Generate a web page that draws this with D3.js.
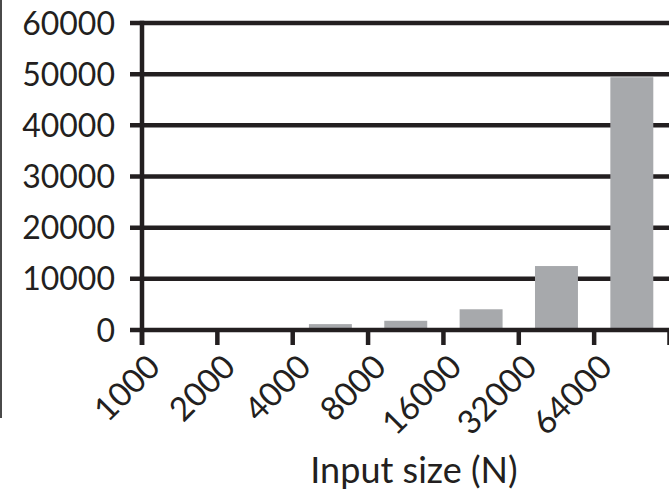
<!DOCTYPE html>
<html>
<head>
<meta charset="utf-8">
<script src="https://cdn.jsdelivr.net/npm/d3@7"></script>
<style>
  html, body { margin: 0; padding: 0; background: #fff; }
  svg { display: block; }
  text { font-family: Lato, "Open Sans", sans-serif; fill: #231f20; }
</style>
</head>
<body>
<svg id="chart" width="669" height="493"></svg>
<script>
const categories = ["1000", "2000", "4000", "8000", "16000", "32000", "64000"];
const values = [100, 300, 1150, 1800, 4050, 12500, 49400];
const yTicks = [0, 10000, 20000, 30000, 40000, 50000, 60000];
const xTitle = "Input size (N)";

(function () {
const svg = d3.select("#chart");
const mLeft = 142, mRight = 669.5, mTop = 23, mBottom = 330;
const ink = "#231f20";

const x = d3.scaleBand().domain(categories).range([mLeft, mRight]).paddingInner(0.43).paddingOuter(0.215);
const step = (mRight - mLeft) / categories.length;
const tickPos = d => mLeft + categories.indexOf(d) * step;
const y = d3.scaleLinear().domain([0, 60000]).range([mBottom, mTop]);

// thin frame line at far left
svg.append("line").attr("x1", 1).attr("x2", 1).attr("y1", 0).attr("y2", 418)
  .attr("stroke", "#4a4a4a").attr("stroke-width", 2);

// gridlines
svg.append("g").selectAll("line").data(yTicks.filter(d => d > 0)).join("line")
  .attr("x1", 130).attr("x2", 680)
  .attr("y1", d => y(d)).attr("y2", d => y(d))
  .attr("stroke", ink).attr("stroke-width", 4.5);

// bars
svg.append("g").selectAll("rect").data(categories).join("rect")
  .attr("x", d => x(d))
  .attr("width", x.bandwidth())
  .attr("y", (d, i) => y(values[i]))
  .attr("height", (d, i) => y(0) - y(values[i]))
  .attr("fill", "#a7a9ac");

// y axis labels
svg.append("g").selectAll("text").data(yTicks).join("text")
  .attr("x", 115).attr("y", d => y(d) + 11.5)
  .attr("text-anchor", "end")
  .attr("font-size", 32)
  .text(d => d);

// zero line (x axis)
svg.append("line").attr("x1", 130).attr("x2", 680)
  .attr("y1", y(0)).attr("y2", y(0))
  .attr("stroke", ink).attr("stroke-width", 4.5);

// y axis line
svg.append("line").attr("x1", mLeft).attr("x2", mLeft)
  .attr("y1", mTop - 2.25).attr("y2", 345)
  .attr("stroke", ink).attr("stroke-width", 4.5);

// x ticks (at band boundaries)
svg.append("g").selectAll("line").data(d3.range(categories.length + 1)).join("line")
  .attr("x1", i => mLeft + i * step).attr("x2", i => mLeft + i * step)
  .attr("y1", mBottom).attr("y2", 345)
  .attr("stroke", ink).attr("stroke-width", 4.5);

// x tick labels rotated
svg.append("g").selectAll("text").data(categories).join("text")
  .attr("text-anchor", "end")
  .attr("font-size", 33)
  .attr("transform", d => `translate(${tickPos(d) + 20},369) rotate(-45)`)
  .text(d => d);

// x axis title
svg.append("text")
  .attr("x", 414).attr("y", 483)
  .attr("text-anchor", "middle")
  .attr("font-size", 36)
  .text(xTitle);
})();
</script>
</body>
</html>
